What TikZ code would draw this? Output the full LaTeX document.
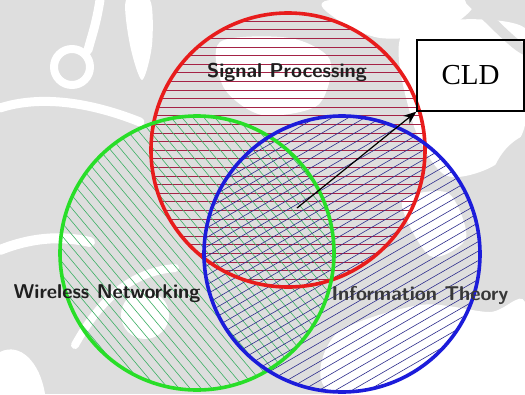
\documentclass[tikz,border=0pt]{standalone}
\usepackage{fontspec}
\newfontfamily\timesfont{Liberation Serif}
\usetikzlibrary{arrows.meta}

\definecolor{wmgray}{RGB}{222,222,222}
\definecolor{ringred}{RGB}{232,28,28}
\definecolor{ringgreen}{RGB}{40,222,40}
\definecolor{ringblue}{RGB}{28,28,218}
\definecolor{hatchredc}{RGB}{165,35,70}
\definecolor{hatchgreenc}{RGB}{60,175,100}
\definecolor{hatchbluec}{RGB}{45,45,140}

\tikzset{
  ring/.style={line width=3.6pt},
  hatchline/.style={line width=0.6pt},
  lbl/.style={font=\fontsize{20}{23}\selectfont\sffamily\bfseries, text=black!88, inner sep=1pt},
  wm/.style={white, line cap=round},
  boxnode/.style={draw, line width=1.3pt, minimum width=107pt, minimum height=71pt,
    inner sep=0pt, font=\timesfont\fontsize{29}{29}\selectfont},
  pointer/.style={line width=1.2pt, -{Stealth[length=13pt,width=10pt]}}
}

\begin{document}
\begin{tikzpicture}[x=1pt,y=-1pt]
\useasboundingbox (0,0) rectangle (525,394);

% faint watermark in the background
\fill[wmgray] (0,0) rectangle (525,394);
\draw[wm, line width=8pt] (72,67) circle[radius=18];
\fill[white] plot[smooth cycle] coordinates {(126,0) (150,0) (152,45) (142,80) (130,45)};
\draw[wm, line width=9pt] (100,0) .. controls (96,25) and (92,35) .. (88,50);
\draw[wm, line width=9pt] (0,108) .. controls (40,95) and (90,102) .. (140,122);
\draw[wm, line width=10pt] (0,250) .. controls (30,238) and (60,235) .. (90,242);
\fill[white] (145,315) circle[radius=24];
\draw[wm, line width=8pt] (75,345) .. controls (100,300) and (130,272) .. (175,268);
\fill[white] (0,352) .. controls (20,342) and (40,362) .. (45,394) -- (0,394) -- cycle;
\fill[white] plot[smooth cycle] coordinates {(330,0) (470,0) (440,32) (380,38) (335,18)};
\fill[white] plot[smooth cycle] coordinates {(220,42) (290,38) (330,60) (318,105) (262,115) (224,88)};
\fill[white] plot[smooth cycle] coordinates {(405,30) (525,28) (525,125) (495,165) (445,175) (412,120)};
\draw[wmgray, line width=10pt, line cap=round] (470,0) .. controls (500,30) and (515,45) .. (525,50);
\draw[wmgray, line width=9pt, line cap=round] (525,140) .. controls (505,150) and (495,170) .. (490,200);
\fill[white] plot[smooth cycle] coordinates {(335,335) (420,305) (490,312) (525,302) (525,394) (335,394)};
\fill[white] plot[smooth cycle] coordinates {(402,202) (448,193) (466,238) (430,256)};

% hatching of the three sets
\begin{scope}
  \clip (288,150) circle[radius=137];
  \foreach \k in {-16,...,16}
    \draw[hatchline, hatchredc] (140,150+\k*8.6) -- (440,150+\k*8.6);
\end{scope}
\begin{scope}
  \clip (197,253) circle[radius=137];
  \begin{scope}[shift={(197,253)}, rotate=-50]
    \foreach \k in {-17,...,17}
      \draw[hatchline, hatchgreenc] (-160,\k*8.4) -- (160,\k*8.4);
  \end{scope}
\end{scope}
\begin{scope}
  \clip (342,254) circle[radius=138];
  \begin{scope}[shift={(342,254)}, rotate=30]
    \foreach \k in {-17,...,17}
      \draw[hatchline, hatchbluec] (-160,\k*8.2) -- (160,\k*8.2);
  \end{scope}
\end{scope}

% set outlines
\draw[ring, ringred]   (288,150) circle[radius=137];
\draw[ring, ringgreen] (197,253) circle[radius=137];
\draw[ring, ringblue]  (342,254) circle[radius=138];

% set names
\node[lbl] (sp) at (287,72)  {Signal Processing};
\node[lbl] (wn) at (107,294) {Wireless Networking};
\node[lbl, text=black!78] (it) at (420,295) {Information Theory};

% the CLD box and its pointer into the common region
\node[boxnode] (cld) at (470.5,75.5) {CLD};
\coordinate (core) at (297,208);
\draw[pointer] (core) -- (cld.south west);
\end{tikzpicture}
\end{document}
